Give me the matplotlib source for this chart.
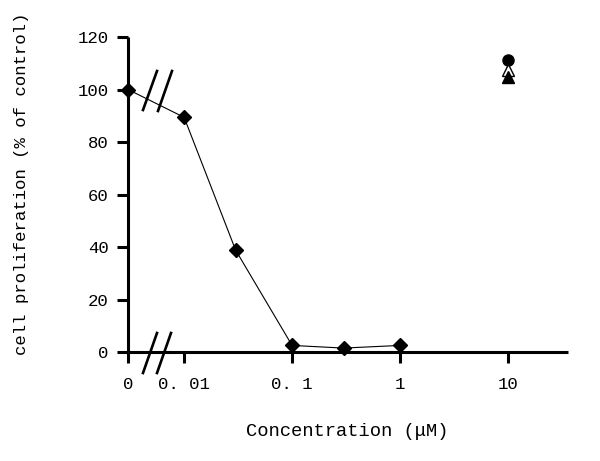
import numpy as np
import matplotlib.pyplot as plt
from matplotlib.lines import Line2D

# dose-response data (concentration in uM, 0 = control)
conc = [0, 0.01, 0.03, 0.1, 0.3, 1]
prolif = [100, 89.4, 38.8, 2.5, 1.5, 2.5]

# single points at 10 uM
high_conc = 10
high_circle = 111.2
high_open_tri = 107.6
high_filled_tri = 104.6

xtick_vals = [0, 0.01, 0.1, 1, 10]
xtick_labels = ["0", "0. 01", "0. 1", "1", "10"]
ytick_vals = [0, 20, 40, 60, 80, 100, 120]

# the "0" dose sits left of the axis break, on the log axis
zero_pos = 10 ** -2.52

def to_axis(c):
    return zero_pos if c == 0 else c

plt.rcParams['font.family'] = ['Liberation Mono', 'DejaVu Sans Mono']
fig = plt.figure(figsize=(6, 4.61), dpi=100)
ax = fig.add_axes([128 / 600, 1 - 352 / 461, 440 / 600, 315 / 461])

x = [to_axis(c) for c in conc]
ax.plot(x, prolif, color="black", lw=0.8, marker="D", ms=7,
        mfc="black", mec="black", clip_on=False, zorder=3)
ax.plot(high_conc, high_circle, "o", color="black", ms=8, clip_on=False)
ax.plot(high_conc, high_open_tri, "^", mfc="white", mec="black", mew=1, ms=8, clip_on=False)
ax.plot(high_conc, high_filled_tri, "^", color="black", ms=8, clip_on=False)

ax.set_xscale("log")
ax.set_xlim(zero_pos, 10 ** 1.556)
ax.set_ylim(0, 120)
ax.set_xticks([to_axis(v) for v in xtick_vals])
ax.set_xticklabels(xtick_labels)
ax.xaxis.set_minor_locator(plt.NullLocator())
ax.set_yticks(ytick_vals)

for s in ["top", "right"]:
    ax.spines[s].set_visible(False)
for s in ["left", "bottom"]:
    ax.spines[s].set_linewidth(2.2)
    ax.spines[s].set_capstyle("butt")
ax.tick_params(axis="both", direction="out", length=8, width=2.2,
               labelsize=12.5, pad=6)
ax.tick_params(axis="x", pad=10)

# axis break marks (figure pixel space)
def slash(x0, y0, x1, y1):
    fig.add_artist(Line2D([x0 / 600, x1 / 600], [1 - y0 / 461, 1 - y1 / 461],
                          color="black", lw=1.9, transform=fig.transFigure))

slash(143, 110, 157, 71)
slash(158, 111, 172, 71)
slash(143, 373, 157, 333)
slash(157, 373, 171, 333)

fig.text(22 / 600, 1 - 184 / 461, "cell proliferation (% of control)",
         rotation=90, ha="center", va="center", fontsize=12.5)
fig.text(347 / 600, 1 - 431 / 461, "Concentration (μM)",
         ha="center", va="center", fontsize=13.5)

fig.savefig("out.png", dpi=100)
